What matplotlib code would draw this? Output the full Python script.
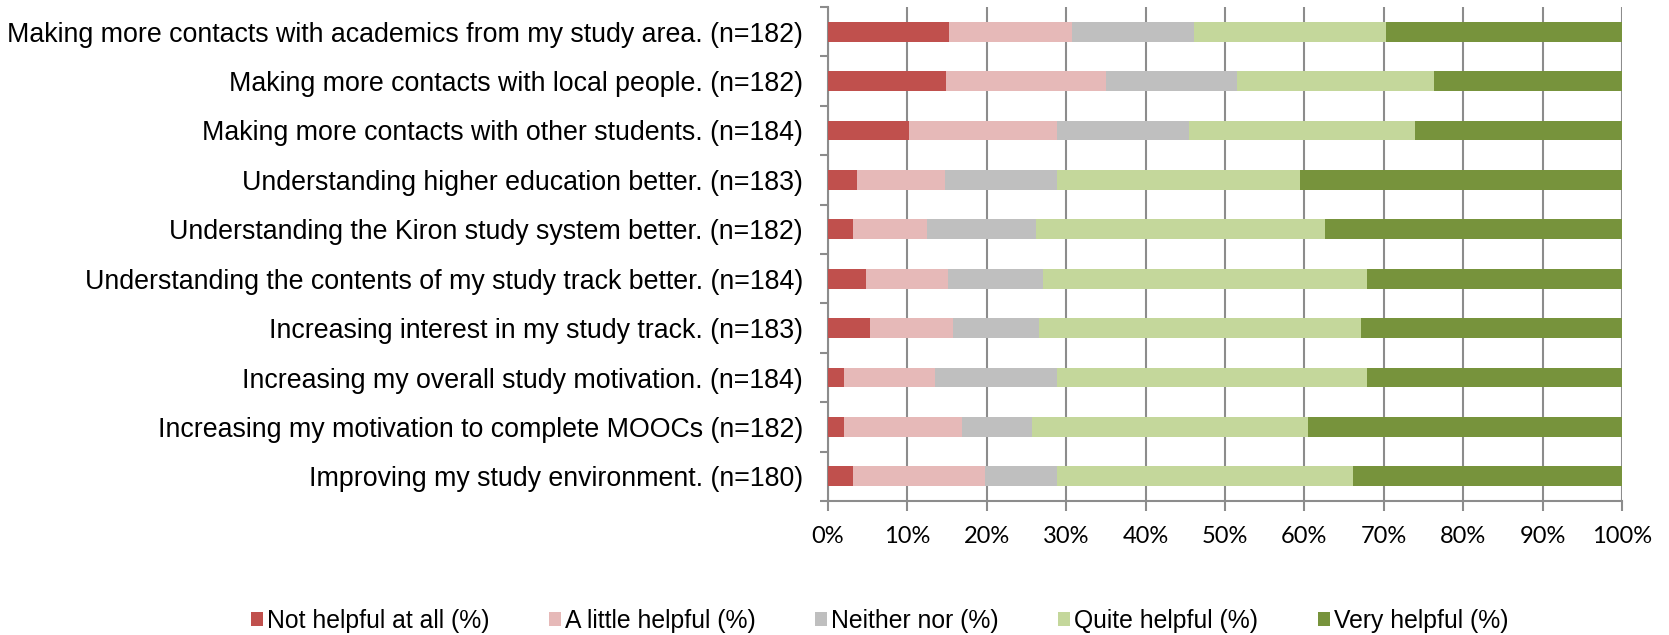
import matplotlib
matplotlib.use("Agg")
import matplotlib.pyplot as plt
import numpy as np

categories = [
    "Making more contacts with academics from my study area. (n=182)",
    "Making more contacts with local people. (n=182)",
    "Making more contacts with other students. (n=184)",
    "Understanding higher education better. (n=183)",
    "Understanding the Kiron study system better. (n=182)",
    "Understanding the contents of my study track better. (n=184)",
    "Increasing interest in my study track. (n=183)",
    "Increasing my overall study motivation. (n=184)",
    "Increasing my motivation to complete MOOCs (n=182)",
    "Improving my study environment. (n=180)",
]

series_names = [
    "Not helpful at all (%)",
    "A little helpful (%)",
    "Neither nor (%)",
    "Quite helpful (%)",
    "Very helpful (%)",
]

not_helpful = [15.3, 14.8, 10.2, 3.7, 3.2, 4.8, 5.3, 2.0, 2.0, 3.2]
little_helpful = [15.4, 20.2, 18.6, 11.0, 9.3, 10.3, 10.4, 11.5, 14.9, 16.6]
neither_nor = [15.4, 16.5, 16.7, 14.2, 13.7, 12.0, 10.9, 15.3, 8.8, 9.0]
quite_helpful = [24.2, 24.8, 28.4, 30.6, 36.4, 40.8, 40.5, 39.1, 34.7, 37.3]
very_helpful = [29.7, 23.7, 26.1, 40.5, 37.4, 32.1, 32.9, 32.1, 39.6, 33.9]

colors = ["#C0504D", "#E6B9B8", "#BFBFBF", "#C4D79B", "#77933C"]

series = [not_helpful, little_helpful, neither_nor, quite_helpful, very_helpful]

fig = plt.figure(figsize=(16.69, 6.35), dpi=100)
ax = fig.add_axes([828 / 1669, 1 - 501 / 635, (1622 - 828) / 1669, (501 - 7) / 635])

y = np.arange(len(categories))
left = np.zeros(len(categories))
handles = []
for name, vals, col in zip(series_names, series, colors):
    vals = np.asarray(vals, dtype=float)
    h = ax.barh(y, vals, left=left, height=0.4, color=col, edgecolor="none",
                label=name, zorder=3)
    handles.append(h)
    left += vals

ax.set_xlim(0, 100)
ax.set_ylim(len(categories) - 0.5, -0.5)

grid_col = "#8C8C8C"
ax.set_xticks(np.arange(0, 101, 10))
ax.set_xticklabels([f"{v}%" for v in range(0, 101, 10)],
                   fontfamily="Lato", fontsize=17)
ax.xaxis.grid(True, color=grid_col, linewidth=1.5, zorder=0)
ax.tick_params(axis="x", direction="out", length=7, width=1.5, color=grid_col,
               pad=11)

ax.set_yticks(y)
ax.set_yticklabels(categories, fontfamily="Liberation Sans", fontsize=19.3)
ax.tick_params(axis="y", which="major", length=0, pad=18)
ax.set_yticks(np.arange(-0.5, len(categories), 1.0), minor=True)
ax.tick_params(axis="y", which="minor", direction="out", length=6, width=1.5,
               color=grid_col)

for side in ("top", "right"):
    ax.spines[side].set_visible(False)
for side in ("left", "bottom"):
    ax.spines[side].set_color(grid_col)
    ax.spines[side].set_linewidth(1.5)

fig.legend(handles=handles, labels=series_names, loc="center",
           bbox_to_anchor=(0.527, 1 - 621 / 635), ncol=5, frameon=False,
           prop={"family": "Liberation Sans", "size": 17.8},
           handlelength=0.5, handleheight=0.5, handletextpad=0.15,
           columnspacing=2.4)

fig.savefig("out.png", dpi=100)
